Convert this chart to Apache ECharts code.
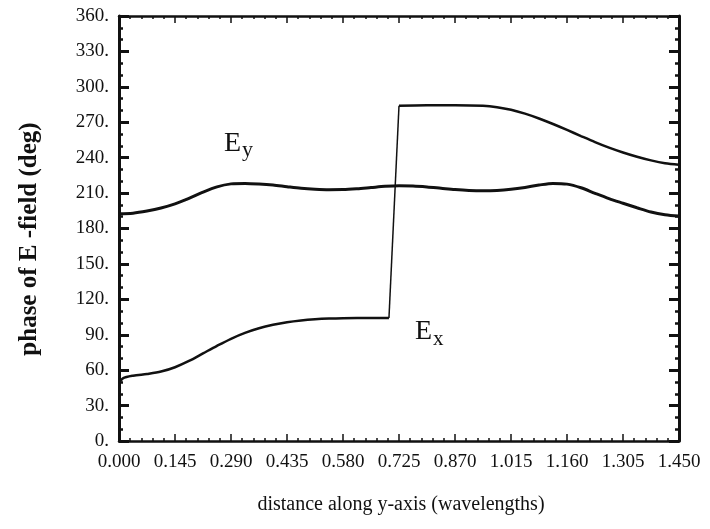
<!DOCTYPE html>
<html>
<head>
<meta charset="utf-8">
<script src="https://cdn.jsdelivr.net/npm/echarts@6/dist/echarts.min.js"></script>
<style>
html,body{margin:0;padding:0;background:#fff;}
#chart{width:710px;height:529px;}
</style>
</head>
<body>
<div id="chart"></div>
<script>
// ---- data ----
const xTicks = [0, 0.145, 0.29, 0.435, 0.58, 0.725, 0.87, 1.015, 1.16, 1.305, 1.45];
const yTicks = [0, 30, 60, 90, 120, 150, 180, 210, 240, 270, 300, 330, 360];

const eyX = [0, 0.03625, 0.0725, 0.10875, 0.145, 0.18125, 0.2175, 0.25375, 0.29, 0.32625,
             0.3625, 0.39875, 0.435, 0.47125, 0.5075, 0.54375, 0.58, 0.61625, 0.6525, 0.68875,
             0.725, 0.76125, 0.7975, 0.83375, 0.87, 0.90625, 0.9425, 0.97875, 1.015, 1.05125,
             1.0875, 1.12375, 1.16, 1.19625, 1.2325, 1.26875, 1.305, 1.34125, 1.3775, 1.41375, 1.45];
const eyY = [192.5, 193, 194.8, 197.3, 200.8, 205.5, 210.8, 215.3, 217.8, 218.2,
             217.7, 216.8, 215.4, 214.1, 213.3, 212.9, 213, 213.7, 214.7, 215.7,
             216.2, 216, 215.2, 214.1, 213, 212.2, 211.9, 212.2, 213.2, 214.8,
             216.8, 218.2, 217.6, 214.5, 209.8, 205.3, 201.4, 197.6, 194, 191.7, 190.5];

const exLowX = [0, 0.01, 0.03625, 0.0725, 0.10875, 0.145, 0.18125, 0.2175, 0.25375, 0.29,
                0.32625, 0.3625, 0.39875, 0.435, 0.47125, 0.5075, 0.54375, 0.58, 0.6525, 0.699];
const exLowY = [49, 53, 55.3, 56.8, 58.8, 62.5, 67.8, 74.2, 80.6, 86.6,
                91.6, 95.5, 98.4, 100.6, 102.1, 103.1, 103.7, 104, 104.2, 104.2];
const exHighX = [0.725, 0.7975, 0.87, 0.9425, 0.97875, 1.015, 1.05125, 1.0875, 1.12375, 1.16,
                 1.19625, 1.2325, 1.26875, 1.305, 1.34125, 1.3775, 1.41375, 1.45];
const exHighY = [284, 284.3, 284.5, 284, 282.8, 280.6, 277.3, 273.2, 268.5, 263.5,
                 258.3, 253.2, 248.5, 244.4, 240.8, 237.7, 235.3, 234];

const zip = (xs, ys) => xs.map((x, i) => [x, ys[i]]);
const jump = [[exLowX[exLowX.length - 1], exLowY[exLowY.length - 1]], [exHighX[0], exHighY[0]]];

const FONT = "'Liberation Serif', 'DejaVu Serif', serif";
const black = '#111';

function xAxisDef(pos, labels) {
  return {
    type: 'value', position: pos, min: xTicks[0], max: xTicks[xTicks.length - 1],
    interval: xTicks[1] - xTicks[0],
    axisLine: {show: true, onZero: false, lineStyle: {color: black, width: 2.5}},
    axisTick: {show: true, inside: true, length: 7, lineStyle: {color: black, width: 1.5}},
    minorTick: {show: true, splitNumber: 5, length: 3, lineStyle: {color: black, width: 1.5}},
    splitLine: {show: false}, minorSplitLine: {show: false},
    axisLabel: {show: labels, color: black, fontFamily: FONT, fontSize: 19, margin: 12,
      formatter: v => v.toFixed(3)}
  };
}
function yAxisDef(pos, labels) {
  return {
    type: 'value', position: pos, min: yTicks[0], max: yTicks[yTicks.length - 1],
    interval: yTicks[1] - yTicks[0],
    axisLine: {show: true, onZero: false, lineStyle: {color: black, width: 3}},
    axisTick: {show: true, inside: true, length: 10, lineStyle: {color: black, width: 3}},
    minorTick: {show: true, splitNumber: 3, length: 4, lineStyle: {color: black, width: 2.5}},
    splitLine: {show: false}, minorSplitLine: {show: false},
    axisLabel: {show: labels, color: black, fontFamily: FONT, fontSize: 19, margin: 10,
      formatter: v => v + '.'}
  };
}

const chart = echarts.init(document.getElementById('chart'), null, {renderer: 'canvas'});
chart.setOption({
  backgroundColor: '#fff',
  animation: false,
  grid: {left: 119, right: 31, top: 16, bottom: 88},
  xAxis: [xAxisDef('bottom', true), xAxisDef('top', false)],
  yAxis: [yAxisDef('left', true), yAxisDef('right', false)],
  series: [
    {name: 'Ey', type: 'line', data: zip(eyX, eyY), smooth: 0.3, showSymbol: false,
     lineStyle: {color: black, width: 3}},
    {name: 'Ex low', type: 'line', data: zip(exLowX, exLowY), smooth: 0.3, showSymbol: false,
     lineStyle: {color: black, width: 2.5}},
    {name: 'Ex jump', type: 'line', data: jump, showSymbol: false,
     lineStyle: {color: black, width: 1.5}},
    {name: 'Ex high', type: 'line', data: zip(exHighX, exHighY), smooth: 0.3, showSymbol: false,
     lineStyle: {color: black, width: 2.5}}
  ],
  graphic: [
    {type: 'text', x: 30, y: 239, rotation: Math.PI / 2,
     style: {text: 'phase of E -field (deg)', font: "bold 25px 'Liberation Serif'", fill: black,
             align: 'center', verticalAlign: 'middle'}},
    {type: 'text', x: 401, y: 505,
     style: {text: 'distance along y-axis (wavelengths)', font: "20px 'Liberation Serif'", fill: black,
             align: 'center', verticalAlign: 'middle'}},
    {type: 'text', x: 224, y: 158, style: {text: 'E', font: "28px 'Liberation Serif'", fill: black, verticalAlign: 'bottom'}},
    {type: 'text', x: 242, y: 161, style: {text: 'y', font: "22px 'Liberation Serif'", fill: black, verticalAlign: 'bottom'}},
    {type: 'text', x: 415, y: 346, style: {text: 'E', font: "28px 'Liberation Serif'", fill: black, verticalAlign: 'bottom'}},
    {type: 'text', x: 433, y: 350, style: {text: 'x', font: "21px 'Liberation Serif'", fill: black, verticalAlign: 'bottom'}}
  ]
});
</script>
</body>
</html>
